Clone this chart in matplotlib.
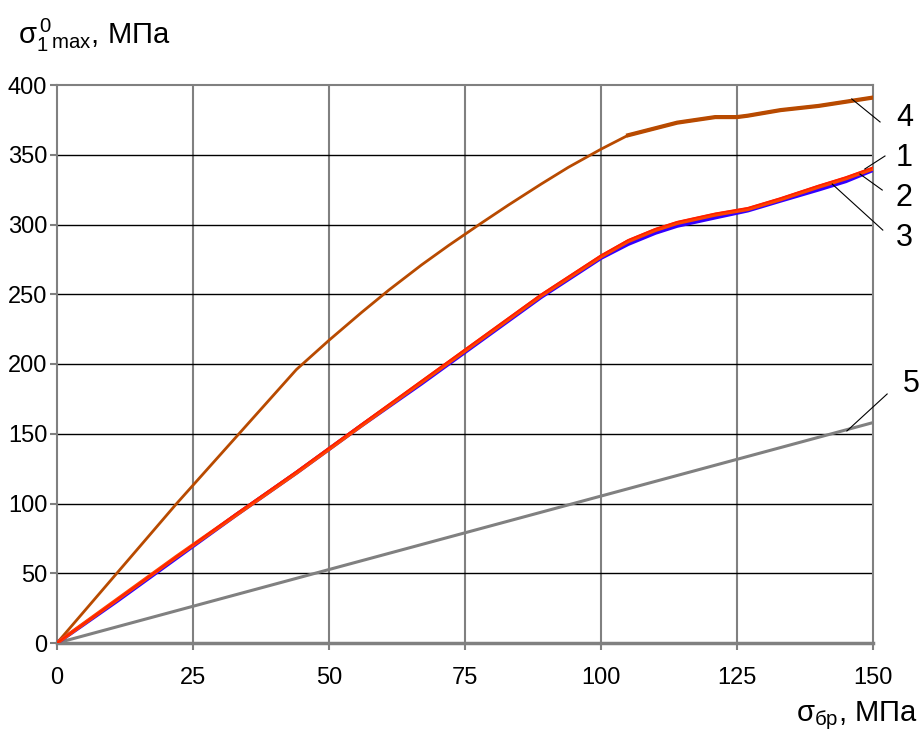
import matplotlib.pyplot as plt

plt.rcParams['font.family'] = ['Liberation Sans', 'DejaVu Sans']
plt.rcParams['mathtext.fontset'] = 'custom'
plt.rcParams['mathtext.rm'] = 'Liberation Sans'
plt.rcParams['mathtext.it'] = 'Liberation Sans'

# абсцисса, МПа
x = [0, 11, 22, 33, 44, 56, 67, 78, 89, 100, 105, 110, 114, 121, 127, 133, 140, 145, 150]

# кривые 1-3
y1 = [0, 31, 62, 93, 123, 157, 188, 219, 250, 278, 289, 297, 302, 308, 312, 319, 328, 334, 341]
y2 = [0, 31, 62, 92, 122, 156, 187, 218, 249, 277, 288, 296, 301, 307, 311, 318, 327, 333, 340]
y3 = [0, 30, 61, 92, 122, 156, 186, 217, 248, 276, 286, 294, 299, 305, 310, 317, 325, 331, 339]

# кривая 4
x4 = [0, 11, 22, 33, 44, 50, 56, 61, 67, 72, 78, 83, 89, 94, 100,
      105, 110, 114, 121, 125, 127, 133, 140, 145, 150]
y4 = [0, 50, 100, 148, 196, 217, 237, 253, 271, 285, 301, 314, 329, 341, 354,
      364, 369, 373, 377, 377, 378, 382, 385, 388, 391]
x4b = [105, 110, 114, 121, 125, 127, 133, 140, 145, 150]
y4b = [364, 369, 373, 377, 377, 378, 382, 385, 388, 391]

# кривая 5
x5 = [0, 150]
y5 = [0, 158]

fig = plt.figure(figsize=(9.24, 7.33), dpi=100)
ax = fig.add_axes([57/924, 90/733, 816/924, 558/733])

ax.set_xlim(0, 150)
ax.set_ylim(0, 400)
ax.set_xticks([0, 25, 50, 75, 100, 125, 150])
ax.set_yticks(range(0, 401, 50))

for xv in [25, 50, 75, 100, 125]:
    ax.axvline(xv, color='#808080', lw=1.5, zorder=1)
for yv in range(50, 400, 50):
    ax.axhline(yv, color='black', lw=1.0, zorder=1)

for s in ax.spines.values():
    s.set_color('#808080')
    s.set_linewidth(1.5)
ax.spines['bottom'].set_linewidth(2.5)
ax.tick_params(colors='#808080', labelcolor='black', labelsize=17,
               length=5, width=1.5)
ax.tick_params(axis='x', pad=12)
ax.tick_params(axis='y', pad=2)

ax.plot(x5, y5, color='#808080', lw=2.2, zorder=3)
ax.plot(x4, y4, color='#B84A00', lw=2.0, zorder=3)
ax.plot(x4b, y4b, color='#B84A00', lw=3.0, zorder=3)
ax.plot(x, y3, color='#3300FF', lw=2.8, zorder=3)
ax.plot(x, y2, color='#FF4400', lw=2.8, zorder=4)
ax.plot(x, y1, color='#FF2000', lw=1.2, zorder=5)

# выноски
leaders = [
    ('1', (148.5, 339.8), (152.2, 349.1), (154.2, 348)),
    ('2', (147.6, 336.2), (151.7, 324.7), (154.2, 319)),
    ('3', (142.5, 329), (151.8, 296), (154.2, 290)),
    ('4', (146.1, 390), (151.3, 373.5), (154.2, 376)),
    ('5', (145.2, 152), (152.6, 178.5), (155.5, 186)),
]
for lab, p0, p1, pt in leaders:
    ax.plot([p0[0], p1[0]], [p0[1], p1[1]], color='black', lw=0.8,
            clip_on=False, zorder=6)
    ax.text(pt[0], pt[1], lab, fontsize=22, va='center', ha='left',
            clip_on=False)

fig.text(18/924, 1 - 35/733,
         r'$\mathrm{\sigma_{1}^{\,0}{}_{max}}$, МПа',
         fontsize=21, va='center', ha='left')
fig.text(918/924, 1 - 716/733, r'$\mathrm{\sigma_{бр}}$, МПа',
         fontsize=21, va='center', ha='right')

fig.savefig('out.png', dpi=100)
